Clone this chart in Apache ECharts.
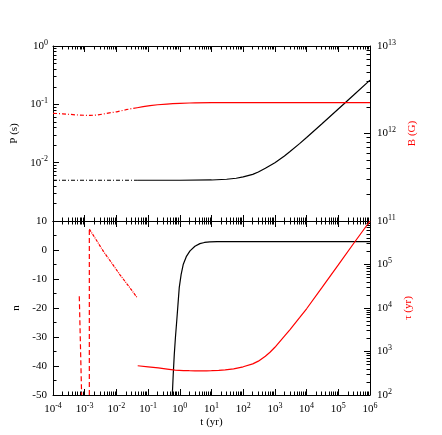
<!DOCTYPE html>
<html><head><meta charset="utf-8">
<script src="https://cdn.jsdelivr.net/npm/echarts@6/dist/echarts.min.js"></script>
<style>html,body{margin:0;padding:0;background:#fff}#c{width:442px;height:435px}</style>
</head><body><div id="c"></div>
<script>
// ---------- data ----------
// top panel: spin period P (s), left axis
const tPeriodEarly = [1e-4, 0.045];
const periodEarly  = [0.005, 0.005];
const tPeriodLate  = [0.045, 1, 10, 30, 60, 100, 200, 300, 500, 1000, 2000, 3000, 6000, 1e4, 3e4, 1e5, 3e5, 1e6];
const periodLate   = [0.005, 0.005, 0.00505, 0.0052, 0.0054, 0.0057, 0.0063, 0.0069, 0.0080, 0.0100, 0.0130, 0.0155, 0.0212, 0.0270, 0.046, 0.083, 0.143, 0.26];
// top panel: magnetic field B (G), right axis
const tFieldEarly = [1e-4, 2e-4, 3e-4, 5.6e-4, 1e-3, 1.5e-3, 2.5e-3, 3.9e-3, 6e-3, 1.03e-2, 0.02, 0.034, 0.045];
const fieldEarly  = [1.70e12, 1.68e12, 1.66e12, 1.63e12, 1.615e12, 1.61e12, 1.63e12, 1.67e12, 1.72e12, 1.77e12, 1.87e12, 1.94e12, 1.97e12];
const tFieldLate  = [0.045, 0.07, 0.115, 0.2, 0.39, 0.6, 1, 2, 3, 10, 1e6];
const fieldLate   = [1.97e12, 2.03e12, 2.08e12, 2.13e12, 2.17e12, 2.19e12, 2.21e12, 2.23e12, 2.24e12, 2.25e12, 2.25e12];
// bottom panel: braking index n, left axis
const tBraking = [0.58, 0.62, 0.67, 0.73, 0.8, 0.88, 0.96, 1.1, 1.29, 1.6, 2.1, 3, 4.3, 6, 8.9, 15, 1e6];
const braking  = [-50, -43, -36, -30, -24.5, -18.5, -13, -8.5, -4.9, -2.3, -0.3, 1.3, 2.2, 2.6, 2.8, 2.9, 2.9];
// bottom panel: characteristic age tau (yr), right axis
const tAgeA = [6.75e-4, 8.0e-4];
const ageA  = [1.86e4, 100];
const tAgeB = [1.4e-3, 1.4e-3];
const ageB  = [100, 6.5e5];
const tAgeC = [1.4e-3, 2.2e-3, 3.9e-3, 7e-3, 0.013, 0.025, 0.044];
const ageC  = [6.5e5, 3.9e5, 2.0e5, 1.1e5, 5.8e4, 3.1e4, 1.78e4];
const tAgeLate = [0.047, 0.1, 0.21, 0.4, 0.71, 1.3, 2, 3, 4.9, 7, 10, 17, 27, 50, 100, 200, 300, 500, 700, 1000, 2000, 3000, 6000, 1e4, 3e4, 1e5, 3e5, 1e6];
const ageLate  = [470, 445, 422, 395, 373, 365, 362, 360, 360, 360, 362, 368, 380, 400, 445, 520, 600, 780, 960, 1250, 2250, 3200, 6000, 9600, 2.9e4, 9.8e4, 3e5, 1e6];
// tick labels
const xTickLabels   = [1e-4, 1e-3, 1e-2, 1e-1, 1, 10, 100, 1e3, 1e4, 1e5, 1e6];
const pTickLabels   = [1e-2, 1e-1, 1];
const bTickLabels   = [1e11, 1e12, 1e13];
const tauTickLabels = [1e2, 1e3, 1e4, 1e5];
const nTickLabels   = [-50, -40, -30, -20, -10, 0, 10];

// ---------- helpers ----------
const FONT = "'Liberation Serif', 'Times New Roman', serif";
const RED = '#ff0000';
const pairs = (xs, ys) => xs.map((x, i) => [x, ys[i]]);
function decades(a, b) { const r = []; for (let e = a; e <= b; e++) r.push(Math.pow(10, e)); return r; }
function minors(a, b) { const r = []; for (let e = a; e < b; e++) for (let k = 2; k <= 9; k++) r.push(k * Math.pow(10, e)); return r; }
const powLabel = v => '10{s|' + Math.round(Math.log10(v)) + '}';
const labelStyle = {
  fontFamily: FONT, fontSize: 11, color: '#000',
  rich: { s: { fontFamily: FONT, fontSize: 8, padding: [0, 0, 7, 0], color: '#000' } }
};
const LINE = { show: true, onZero: false, lineStyle: { color: '#000', width: 1 } };
const NOLINE = { show: false, onZero: false };

function logAxis(grid, pos, min, max, ticks, len, labels, extra) {
  return Object.assign({
    type: 'log', logBase: 10, gridIndex: grid, position: pos, min, max,
    axisLine: labels ? LINE : NOLINE,
    axisTick: { show: true, inside: true, length: len, customValues: ticks, lineStyle: { color: '#000', width: 1 } },
    minorTick: { show: false }, splitLine: { show: false },
    axisLabel: labels && labels !== 'line'
      ? Object.assign({ show: true, customValues: labels, formatter: powLabel }, labelStyle)
      : { show: false }
  }, extra || {});
}

const xMaj = decades(-4, 6), xMin = minors(-4, 6);
const xAxes = [
  logAxis(0, 'bottom', 1e-4, 1e6, xMaj, 6, 'line'),            // 0 series axis top panel
  logAxis(0, 'top', 1e-4, 1e6, xMaj, 6, 'line'),               // 1
  logAxis(0, 'bottom', 1e-4, 1e6, xMin, 3.5, null),            // 2
  logAxis(0, 'top', 1e-4, 1e6, xMin, 3.5, null),               // 3
  logAxis(1, 'bottom', 1e-4, 1e6, xMaj, 6, xTickLabels, {      // 4 series axis bottom panel
    name: 't (yr)', nameLocation: 'middle', nameGap: 22,
    nameTextStyle: { fontFamily: FONT, fontSize: 11, color: '#000' } }),
  logAxis(1, 'top', 1e-4, 1e6, xMaj, 6, 'line'),               // 5
  logAxis(1, 'bottom', 1e-4, 1e6, xMin, 3.5, null),            // 6
  logAxis(1, 'top', 1e-4, 1e6, xMin, 3.5, null)                // 7
];
xAxes[4].axisLabel.margin = 7;

const yAxes = [
  logAxis(0, 'left', 1e-3, 1, decades(-3, 0), 6, pTickLabels, {   // 0 P
    name: 'P (s)', nameLocation: 'middle', nameGap: 30, nameRotate: 90,
    nameTextStyle: { fontFamily: FONT, fontSize: 11, color: '#000' } }),
  logAxis(0, 'left', 1e-3, 1, minors(-3, 0), 3.5, null),          // 1
  logAxis(0, 'right', 1e11, 1e13, decades(11, 13), 6, bTickLabels, { // 2 B
    name: 'B (G)', nameLocation: 'middle', nameGap: 31, nameRotate: 90,
    nameTextStyle: { fontFamily: FONT, fontSize: 11, color: RED } }),
  logAxis(0, 'right', 1e11, 1e13, minors(11, 13), 3.5, null),     // 3
  {                                                                 // 4 n
    type: 'value', gridIndex: 1, position: 'left', min: -50, max: 10, interval: 10,
    axisLine: LINE,
    axisTick: { show: true, inside: true, length: 6, lineStyle: { color: '#000' } },
    minorTick: { show: true, splitNumber: 2, length: 3.5, lineStyle: { color: '#000' } },
    splitLine: { show: false }, minorSplitLine: { show: false },
    axisLabel: Object.assign({ show: true, margin: 6, customValues: nTickLabels }, labelStyle),
    name: 'n', nameLocation: 'middle', nameGap: 28, nameRotate: 90,
    nameTextStyle: { fontFamily: FONT, fontSize: 11, color: '#000' }
  },
  logAxis(1, 'right', 1e2, 1e6, decades(2, 6), 6, tauTickLabels, {  // 5 tau
    name: 'τ (yr)', nameLocation: 'middle', nameGap: 26, nameRotate: 90,
    nameTextStyle: { fontFamily: FONT, fontSize: 11, color: RED } }),
  logAxis(1, 'right', 1e2, 1e6, minors(2, 6), 3.5, null)           // 6
];
yAxes[0].axisLabel.margin = 5;
yAxes[2].axisLabel.margin = 7;
yAxes[5].axisLabel.margin = 7;

function line(data, xi, yi, color, type) {
  return {
    type: 'line', data, xAxisIndex: xi, yAxisIndex: yi, showSymbol: false, symbol: 'none',
    smooth: false, animation: false, silent: true,
    lineStyle: { color, width: 1.2, type: type || 'solid' }
  };
}

const chart = echarts.init(document.getElementById('c'), null, { renderer: 'canvas' });
chart.setOption({
  animation: false,
  backgroundColor: '#fff',
  grid: [
    { left: 53, right: 72, top: 46, height: 175 },
    { left: 53, right: 72, top: 221, height: 174 }
  ],
  xAxis: xAxes,
  yAxis: yAxes,
  series: [
    line(pairs(tPeriodEarly, periodEarly), 0, 0, '#000', [4, 2, 1, 2]),
    line(pairs(tPeriodLate, periodLate), 0, 0, '#000'),
    line(pairs(tFieldEarly, fieldEarly), 0, 2, RED, [4, 2, 1, 2]),
    line(pairs(tFieldLate, fieldLate), 0, 2, RED),
    line(pairs(tBraking, braking), 4, 4, '#000'),
    line(pairs(tAgeA, ageA), 4, 5, RED, [5, 3]),
    line(pairs(tAgeB, ageB), 4, 5, RED, [5, 3]),
    line(pairs(tAgeC, ageC), 4, 5, RED, [3, 1, 1, 1]),
    line(pairs(tAgeLate, ageLate), 4, 5, RED)
  ]
});
</script></body></html>
